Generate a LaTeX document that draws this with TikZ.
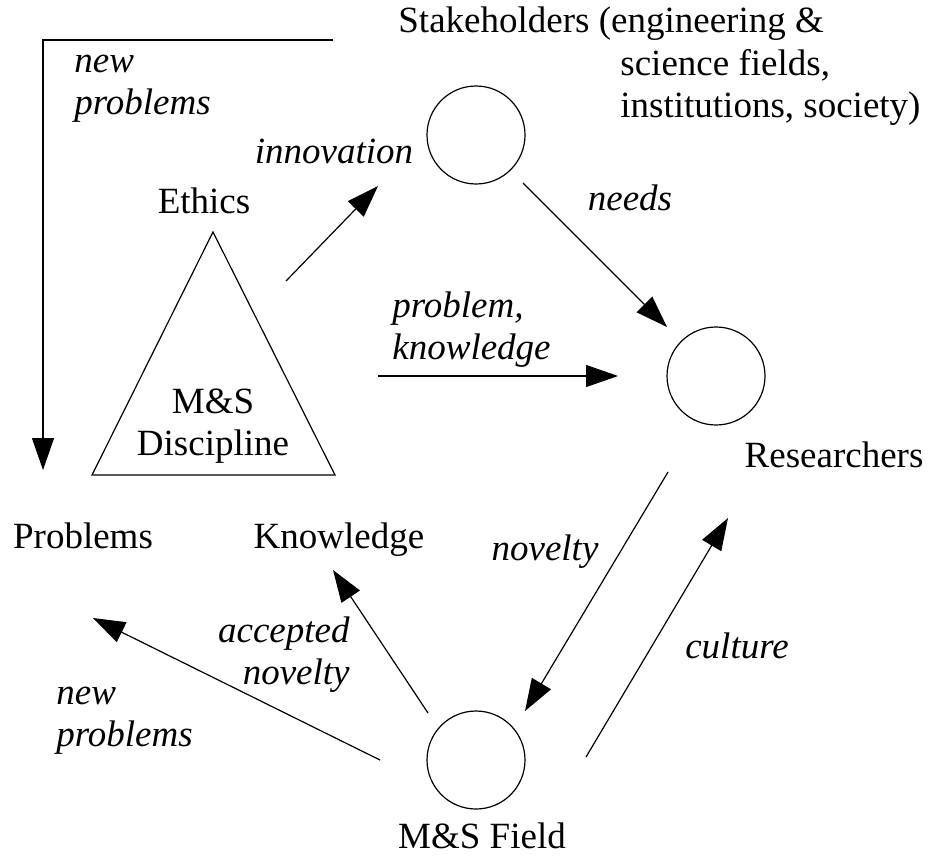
\documentclass[tikz,border=0pt]{standalone}
\usepackage{fontspec}
\setmainfont{Liberation Serif}
\usetikzlibrary{arrows.meta}

\begin{document}
\begin{tikzpicture}[x=0.5pt,y=-0.5pt,
  vertex/.style={draw,circle,minimum size=49pt,inner sep=0pt,line width=0.6pt},
  txt/.style={inner sep=0pt,font=\fontsize{18.5}{21}\selectfont},
  lbl/.style={inner sep=0pt,font=\fontsize{18.5}{21}\selectfont\itshape},
  link/.style={line width=0.6pt,-{Triangle[length=16pt,width=11pt]}}]

\useasboundingbox (0,0) rectangle (929,856);

\node[vertex] (S) at (476,135) {};
\node[vertex] (R) at (716,376) {};
\node[vertex] (F) at (476,760) {};
\draw[line width=0.6pt] (213,232) -- (335,475) -- (92,475) -- cycle;

\node[txt,anchor=base west] (stk1) at (398,33) {Stakeholders (engineering \&};
\node[txt,anchor=west,align=left] (stk2) at (620,87) {science fields,\\institutions, society)};
\node[txt,anchor=base] (ethics) at (204,213) {Ethics};
\node[txt,align=center] (disc) at (213,426) {M\&S\\Discipline};
\node[txt,anchor=base] (res) at (834,467) {Researchers};
\node[txt,anchor=base] (probs) at (83,548) {Problems};
\node[txt,anchor=base] (know) at (339,548) {Knowledge};
\node[txt,anchor=base] (field) at (482,848) {M\&S Field};

\node[lbl,anchor=west,align=left] (np1) at (74,89) {new\\problems};
\node[lbl,anchor=base] (innov) at (334,163) {innovation};
\node[lbl,anchor=base] (needs) at (630,210) {needs};
\node[lbl,anchor=west,align=left] (pk) at (392,330) {problem,\\knowledge};
\node[lbl,anchor=base] (nov) at (545,560) {novelty};
\node[lbl,anchor=base] (cult) at (737,658) {culture};
\node[lbl,anchor=east,align=right] (acc) at (350,655) {accepted\\novelty};
\node[lbl,anchor=west,align=left] (np2) at (56,721) {new\\problems};

\coordinate (fbA) at (333,40);
\coordinate (fbB) at (43,470);
\coordinate (innovA) at (286,281);
\coordinate (innovB) at (378,186);
\coordinate (needsA) at (523,183);
\coordinate (needsB) at (667,327);
\coordinate (pkA) at (378,376);
\coordinate (pkB) at (618,376);
\coordinate (novA) at (668,472);
\coordinate (novB) at (525,711);
\coordinate (cultA) at (586,757);
\coordinate (cultB) at (728,518);
\coordinate (accA) at (428,713);
\coordinate (accB) at (333,570);
\coordinate (npA) at (380,760);
\coordinate (npB) at (93,618);

\draw[link] (fbA) -| (fbB);
\draw[link] (innovA) -- (innovB);
\draw[link] (needsA) -- (needsB);
\draw[link] (pkA) -- (pkB);
\draw[link] (novA) -- (novB);
\draw[link] (cultA) -- (cultB);
\draw[link] (accA) -- (accB);
\draw[link] (npA) -- (npB);

\end{tikzpicture}
\end{document}
